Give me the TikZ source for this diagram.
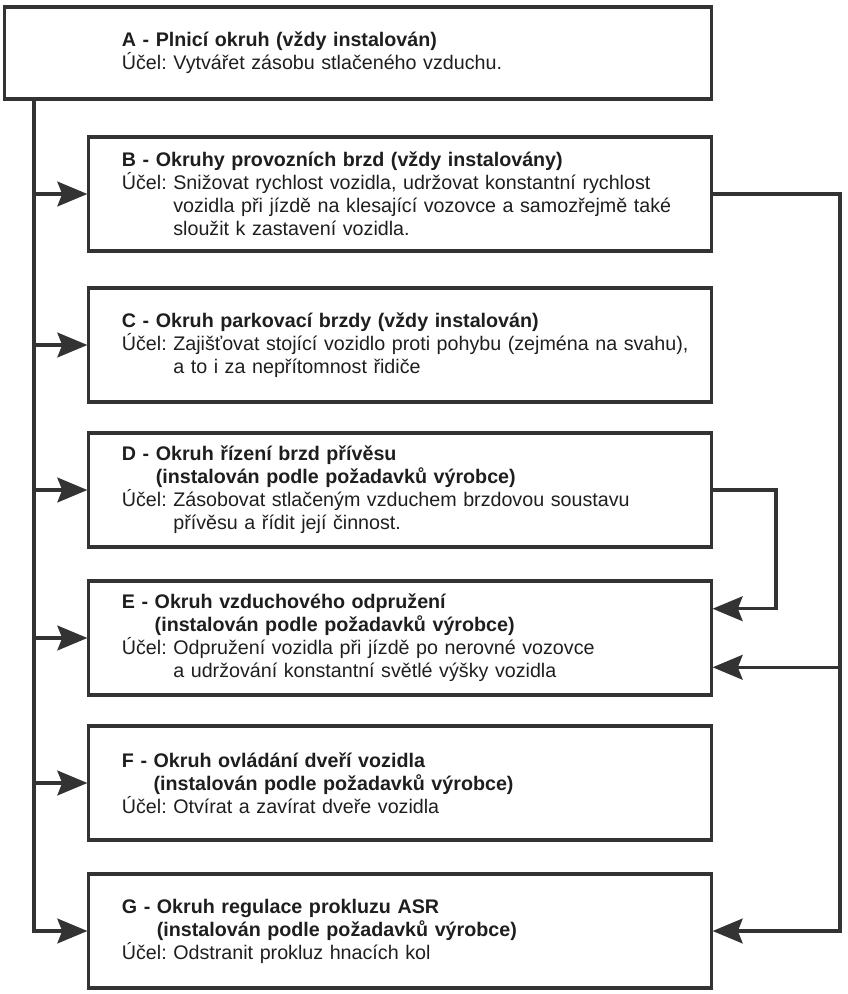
\documentclass[tikz,border=0pt]{standalone}
\usepackage{fontspec}
\setmainfont{Liberation Sans}
\usetikzlibrary{arrows.meta,calc}
\definecolor{linegray}{HTML}{333333}
\definecolor{textgray}{HTML}{1E1E1E}
\tikzset{
  okruh/.style={draw=linegray, line width=2.2pt, rectangle, text=textgray,
    minimum width=15.55cm, minimum height=2.85cm, text width=13.9cm,
    inner xsep=0.825cm, align=left,
    font=\fontsize{14}{16.4}\selectfont\frenchspacing},
  wire/.style={draw=linegray, line width=2.2pt},
  tip/.style={-{Stealth[length=0.75cm,width=0.62cm,inset=0.12cm]}, linegray}
}
\begin{document}
\begin{tikzpicture}[x=0.025cm,y=-0.025cm]
  \useasboundingbox (0,0) rectangle (848,994);
  % circuits
  \node[okruh, minimum width=17.65cm, minimum height=2.3cm, text width=11.8cm,
        inner xsep=2.925cm] (A) at (358,53)
    {\textbf{A - Plnicí okruh (vždy instalován)}\\
     Účel: Vytvářet zásobu stlačeného vzduchu.};
  \node[okruh] (B) at (400,194)
    {\textbf{B - Okruhy provozních brzd (vždy instalovány)}\\
     Účel: Snižovat rychlost vozidla, udržovat konstantní rychlost\\
     \hphantom{Účel:}\ vozidla při jízdě na klesající vozovce a samozřejmě také\\
     \hphantom{Účel:}\ sloužit k zastavení vozidla.};
  \node[okruh] (C) at (400,345)
    {\textbf{C - Okruh parkovací brzdy (vždy instalován)}\\
     \mbox{Účel: Zajišťovat stojící vozidlo proti pohybu (zejména na svahu),}\\
     \hphantom{Účel:}\ a to i za nepřítomnost řidiče};
  \node[okruh] (D) at (400,490)
    {\textbf{D - Okruh řízení brzd přívěsu}\\
     \textbf{\hphantom{D - }(instalován podle požadavků výrobce)}\\
     Účel: Zásobovat stlačeným vzduchem brzdovou soustavu\\
     \hphantom{Účel:}\ přívěsu a řídit její činnost.};
  \node[okruh] (E) at (400,638)
    {\textbf{E - Okruh vzduchového odpružení}\\
     \textbf{\hphantom{E - }(instalován podle požadavků výrobce)}\\
     Účel: Odpružení vozidla při jízdě po nerovné vozovce\\
     \hphantom{Účel:}\ a udržování konstantní světlé výšky vozidla};
  \node[okruh] (F) at (400,783)
    {\textbf{F - Okruh ovládání dveří vozidla}\\
     \textbf{\hphantom{F - }(instalován podle požadavků výrobce)}\\
     Účel: Otvírat a zavírat dveře vozidla};
  \node[okruh] (G) at (400,931)
    {\textbf{G - Okruh regulace prokluzu ASR}\\
     \textbf{\hphantom{G - }(instalován podle požadavků výrobce)}\\
     Účel: Odstranit prokluz hnacích kol};
  % supply line on the left
  \coordinate (ta) at (34,99);
  \draw[wire, tip] (ta) |- (G.west);
  \foreach \n in {B,C,D,E,F}
    \draw[wire, tip] (ta |- \n.west) -- (\n.west);
  % return lines on the right
  \coordinate (rr) at (840,0);
  \coordinate (dd) at (776,0);
  \coordinate (eu) at ($(E.east)!0.5!(E.north east)$);
  \coordinate (el) at ($(E.east)!0.5!(E.south east)$);
  \draw[wire, tip] (B.east) -| (rr |- G.east) -- (G.east);
  \draw[wire, tip] (rr |- el) -- (el);
  \draw[wire, tip] (D.east) -| (dd |- eu) -- (eu);
\end{tikzpicture}
\end{document}
